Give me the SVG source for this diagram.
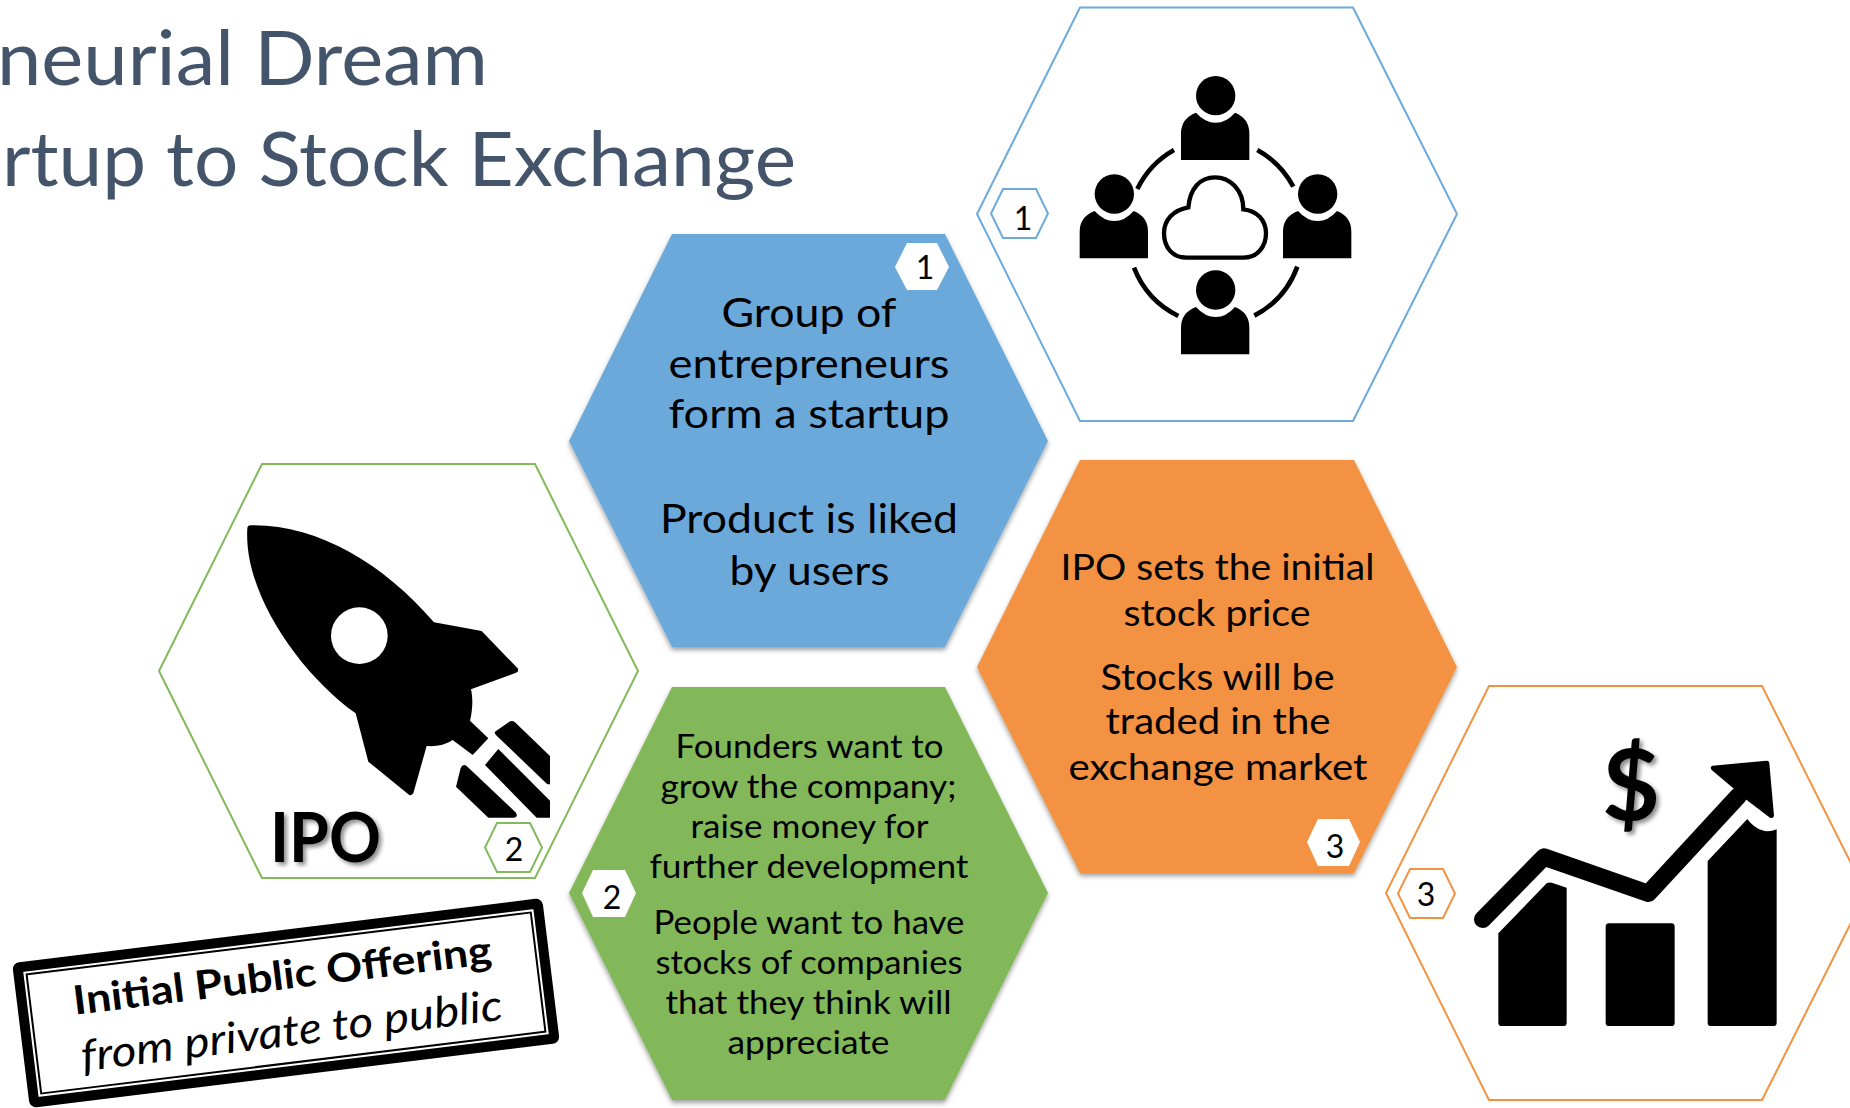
<svg xmlns="http://www.w3.org/2000/svg" xmlns:xlink="http://www.w3.org/1999/xlink" width="1850" height="1108" viewBox="0 0 1850 1108">
<style>
text{font-family:Lato,"Open Sans","Liberation Sans",sans-serif;fill:#000}
.title{font-size:75px;fill:#44546A}
.b{font-size:40px}.g{font-size:32px}.o{font-size:36px}
.d{font-size:32px;text-anchor:middle}
.oblue,.ogreen,.oorange{fill:#fff;stroke-width:2}
.oblue{stroke:#6CA9DC}.ogreen{stroke:#82B95A}.oorange{stroke:#F29342}
.fill{filter:url(#sh)}
.badge{fill:#fff}
</style>
<defs>
<filter id="sh" x="-5%" y="-5%" width="110%" height="112%"><feDropShadow dx="0" dy="3" stdDeviation="2.5" flood-color="#000" flood-opacity=".38"/></filter>
<filter id="ts" x="-20%" y="-20%" width="150%" height="150%"><feDropShadow dx="3" dy="3" stdDeviation="2" flood-color="#000" flood-opacity=".45"/></filter>
<g id="person"><circle cx="767" cy="287" r="59"/><path d="M663,480V400Q663,355 708,338Q735,368 767,368Q799,368 825,338Q868,355 868,400V480Z"/></g>
</defs>
<rect width="1850" height="1108" fill="#fff"/>
<g id="title">
<text class="title" x="-3" y="85" textLength="491" lengthAdjust="spacingAndGlyphs">neurial Dream</text>
<text class="title" x="2" y="186" textLength="794" lengthAdjust="spacingAndGlyphs">rtup to Stock Exchange</text>
</g>
<g id="icon-people">
<polygon class="oblue" points="1080,7.500 1353,7.500 1457,214 1353,421 1080,421 977,214"/>
<g transform="translate(960,0) scale(.33333)">
<use xlink:href="#person"/>
<use xlink:href="#person" x="-304" y="295"/>
<use xlink:href="#person" x="306" y="295"/>
<use xlink:href="#person" y="583"/>
<path d="M642,450A270,270 0 0 0 532,567M892,450A270,270 0 0 1 1000,560M522,803A270,270 0 0 0 655,948M1012,800A270,270 0 0 1 883,947" fill="none" stroke="#000" stroke-width="14"/>
<path d="M680,773H850C895,773 918,737 918,700C918,660 890,632 850,628C850,570 810,532 765,532C720,532 690,565 685,622C640,630 612,660 612,700C612,745 640,773 680,773Z" fill="#fff" stroke="#000" stroke-width="13"/>
</g>
<polygon class="oblue" points="1003,189 1036,189 1048,213.500 1036,238 1003,238 991,213.500"/>
<text class="d" x="1023" y="230">1</text>
</g>
<g id="icon-rocket">
<polygon class="ogreen" points="262,464 535,464 638,671 535,878 262,878 159,671"/>
<g transform="translate(150,450) scale(.33333)">
<path d="M292,235Q292,226 302,226C500,222 700,340 852,517L995,543L1103,655Q1108,664 1098,668L963,718C970,750 967,785 960,812L1015,865L968,915L908,870C885,885 860,890 830,888L790,1030Q782,1040 775,1033L655,935L617,790C450,670 280,430 292,235Z"/>
<circle cx="628" cy="557" r="85" fill="#fff"/>
<path d="M1035,845L1078,815Q1087,810 1095,817L1200,918V1003H1192L1040,857Q1032,850 1035,845Z"/>
<path d="M1005,945L1045,897L1200,1052V1103H1160Z"/>
<path d="M918,1010L932,955Q938,940 950,948L1098,1088Q1105,1103 1090,1103H1015Z"/>
</g>
<text x="270" y="862" font-size="68" font-weight="700" textLength="111" lengthAdjust="spacingAndGlyphs" filter="url(#ts)">IPO</text>
<polygon class="ogreen" points="497,823 530,823 542,847.500 530,872 497,872 485,847.500"/>
<text class="d" x="514" y="861">2</text>
</g>
<g id="icon-chart">
<polygon class="oorange" points="1489,686 1762,686 1866,893 1762,1100 1489,1100 1386,893"/>
<g transform="translate(1370,670) scale(.33333)">
<path d="M385,790L530,640Q540,635 550,640L590,653V1058Q590,1068 580,1068H395Q385,1068 385,1058Z"/>
<rect x="707" y="760" width="207" height="308" rx="10"/>
<path d="M1013,573L1132,447C1150,470 1180,495 1220,478V1058Q1220,1068 1210,1068H1023Q1013,1068 1013,1058Z"/>
<path d="M338,748L522,561L835,670L1105,378" fill="none" stroke="#000" stroke-width="52" stroke-linecap="round" stroke-linejoin="round"/>
<path d="M1028,287L1190,272Q1198,272 1198,280L1212,437Q1210,447 1200,443L1130,390L1090,355L1025,300Q1018,290 1028,287Z"/>
</g>
<text x="1631" y="820" font-size="100" font-weight="700" text-anchor="middle" filter="url(#ts)">$</text>
<polygon class="oorange" points="1410,869 1443,869 1455,893.500 1443,918 1410,918 1398,893.500"/>
<text class="d" x="1426" y="906">3</text>
</g>
<g id="node-blue">
<polygon class="fill" fill="#6CA9DB" points="672,234 945,234 1048,441 945,647 672,647 569,441"/>
<polygon class="badge" points="907,243 937,243 949,267 937,290 907,290 895,267"/>
<text class="d" x="925" y="279">1</text>
<text class="b" x="721.500" y="327" textLength="175" lengthAdjust="spacingAndGlyphs">Group of</text>
<text class="b" x="668.500" y="378" textLength="281" lengthAdjust="spacingAndGlyphs">entrepreneurs</text>
<text class="b" x="668.500" y="428" textLength="281" lengthAdjust="spacingAndGlyphs">form a startup</text>
<text class="b" x="660" y="532.500" textLength="298" lengthAdjust="spacingAndGlyphs">Product is liked</text>
<text class="b" x="729.500" y="585" textLength="160" lengthAdjust="spacingAndGlyphs">by users</text>
</g>
<g id="node-green">
<polygon class="fill" fill="#82B85A" points="672,687 945,687 1048,893 945,1100 672,1100 569,893"/>
<polygon class="badge" points="593,870 625,870 636,893 625,917 593,917 582,893"/>
<text class="d" x="612" y="909">2</text>
<text class="g" x="675.500" y="758" textLength="268" lengthAdjust="spacingAndGlyphs">Founders want to</text>
<text class="g" x="660.500" y="798" textLength="296" lengthAdjust="spacingAndGlyphs">grow the company;</text>
<text class="g" x="690.500" y="838" textLength="238" lengthAdjust="spacingAndGlyphs">raise money for</text>
<text class="g" x="649.500" y="878" textLength="319" lengthAdjust="spacingAndGlyphs">further development</text>
<text class="g" x="653.500" y="934" textLength="311" lengthAdjust="spacingAndGlyphs">People want to have</text>
<text class="g" x="655.500" y="974" textLength="307" lengthAdjust="spacingAndGlyphs">stocks of companies</text>
<text class="g" x="665.500" y="1014" textLength="286" lengthAdjust="spacingAndGlyphs">that they think will</text>
<text class="g" x="727.500" y="1054" textLength="162" lengthAdjust="spacingAndGlyphs">appreciate</text>
</g>
<g id="node-orange">
<polygon class="fill" fill="#F29242" points="1080,460 1354,460 1457,667 1354,873 1080,873 977,667"/>
<polygon class="badge" points="1318,819 1349,819 1360,842 1349,866 1318,866 1307,842"/>
<text class="d" x="1335" y="858">3</text>
<text class="o" x="1060.500" y="580" textLength="314" lengthAdjust="spacingAndGlyphs">IPO sets the initial</text>
<text class="o" x="1123.500" y="626" textLength="187" lengthAdjust="spacingAndGlyphs">stock price</text>
<text class="o" x="1100.500" y="690" textLength="234" lengthAdjust="spacingAndGlyphs">Stocks will be</text>
<text class="o" x="1105.500" y="734" textLength="225" lengthAdjust="spacingAndGlyphs">traded in the</text>
<text class="o" x="1068.500" y="780" textLength="299" lengthAdjust="spacingAndGlyphs">exchange market</text>
</g>
<g id="stamp" transform="translate(286,1003) rotate(-7)">
<rect x="-262" y="-68" width="524" height="136" rx="2" fill="#fff" stroke="#000" stroke-width="10"/>
<rect x="-254" y="-60" width="508" height="120" fill="none" stroke="#000" stroke-width="2"/>
<text x="-211" y="-14" font-size="40" font-weight="700" textLength="421" lengthAdjust="spacingAndGlyphs">Initial Public Offering</text>
<text x="-210" y="43" font-size="43" font-style="italic" textLength="424" lengthAdjust="spacingAndGlyphs">from private to public</text>
</g>
</svg>
